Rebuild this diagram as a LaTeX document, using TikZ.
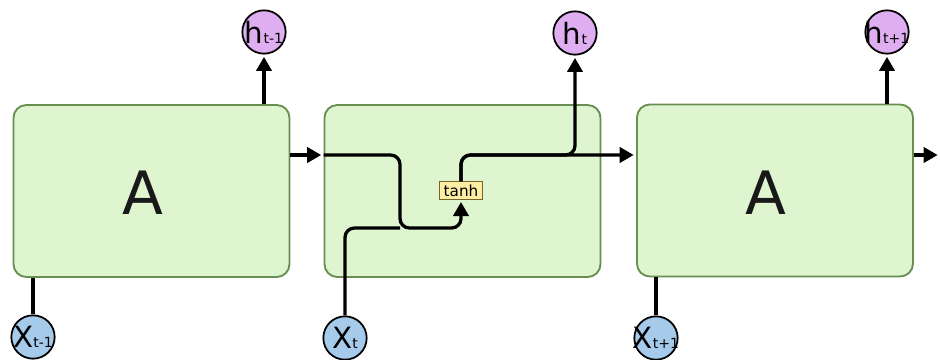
\documentclass[tikz,border=0pt]{standalone}
\usepackage{fontspec}
\setmainfont{DejaVu Sans}
\usetikzlibrary{arrows.meta}

\definecolor{cellgreen}{RGB}{222,245,208}
\definecolor{celledge}{RGB}{104,142,82}
\definecolor{hpurple}{RGB}{222,174,240}
\definecolor{xblue}{RGB}{166,202,234}
\definecolor{layeryellow}{RGB}{252,238,162}
\definecolor{layeredge}{RGB}{120,100,40}

% state label: big letter with its time index, kept out of the circle's size
\newcommand{\statelbl}[2]{\makebox[0pt]{#1{\fontsize{12}{12}\selectfont #2}}}

\tikzset{
  cell/.style={draw=celledge, line width=1.6pt, fill=cellgreen, rounded corners=11pt,
    minimum width=8.28cm, minimum height=5.16cm},
  cellname/.style={text=black!90, font=\fontsize{51}{51}\selectfont},
  hstate/.style={circle, draw, line width=1.5pt, fill=hpurple, minimum size=1.3cm,
    inner sep=0pt, font=\fontsize{25}{25}\selectfont},
  xstate/.style={hstate, fill=xblue},
  layer/.style={draw=layeredge, line width=0.8pt, fill=layeryellow, inner sep=0pt,
    minimum width=1.31cm, minimum height=0.52cm, font=\fontsize{13}{13}\selectfont},
  wire/.style={line width=2.8pt, rounded corners=8pt},
  flow/.style={wire, -{Triangle[length=12pt,width=13pt]}, shorten >=2pt}
}

\begin{document}
\begin{tikzpicture}[x=0.03cm, y=-0.03cm]
\useasboundingbox (0,0) rectangle (940,360);

% the three copies of the cell
\node[cell] (cell1) at (151.5,191) {};
\node[cell] (cell2) at (462.5,191) {};
\node[cell] (cell3) at (775,190.5) {};
\node[cellname] (name1) at (143,193) {A};
\node[cellname] (name3) at (766,193) {A};

\node[layer] (tanh) at (461,190.5) {tanh};

% inputs and outputs
\node[hstate] (h0) at (264,32) {\statelbl{h}{t-1}};
\node[hstate] (h1) at (575,33) {\statelbl{h}{t}};
\node[hstate] (h2) at (887,32) {\statelbl{h}{t+1}};
\node[xstate] (x0) at (33,337) {\statelbl{X}{t-1}};
\node[xstate] (x1) at (345,338) {\statelbl{X}{t}};
\node[xstate] (x2) at (656,338) {\statelbl{X}{t+1}};

\coordinate (hrow) at (0,155);
\coordinate (join) at (400,228);
\coordinate (next) at (940,155);

\draw[wire] (x0) -- (x0 |- cell1.south);
\draw[wire] (x2) -- (x2 |- cell3.south);
\draw[flow] (cell1.north -| h0) -- (h0);
\draw[flow] (cell3.north -| h2) -- (h2);

\draw[flow] (cell1.east |- hrow) -- (cell2.west |- hrow);
\draw[flow] (cell3.east |- hrow) -- (next);

% inside the middle cell
\draw[flow] (cell2.west |- hrow) -| (join) -| (tanh.south);
\draw[wire] (x1) |- (join);
\draw[flow] (tanh.north) |- (cell3.west |- hrow);
\draw[flow] (tanh.north) |- (h1 |- hrow) -- (h1);

\end{tikzpicture}
\end{document}
